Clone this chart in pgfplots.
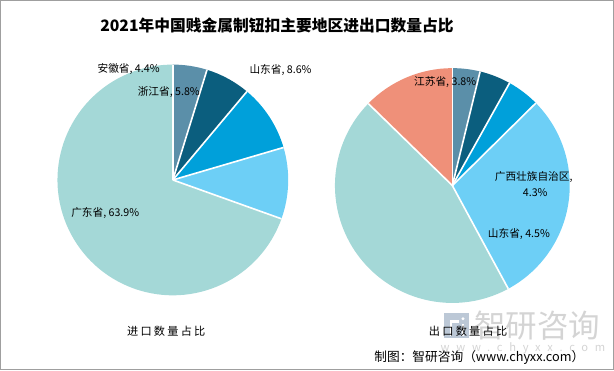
\documentclass[border=0pt]{standalone}
\usepackage{pgfplots}
\pgfplotsset{compat=1.18}
\usepackage{fontspec}
\setmainfont{Noto Sans CJK SC}
\definecolor{cA}{HTML}{5B8FA9}
\definecolor{cB}{HTML}{0B5E7E}
\definecolor{cC}{HTML}{00A0DA}
\definecolor{cD}{HTML}{6DCFF6}
\definecolor{cE}{HTML}{A4D8D7}
\definecolor{cF}{HTML}{EF9079}
\definecolor{wm}{HTML}{D4D4D4}
\definecolor{wmlogo}{HTML}{BCC8D6}
% build list of start/end angles from value/colour list (clockwise from 12 o'clock)
\newcommand\pieangles[2]{% #1 output macro name, #2 list
  \xdef\pieTot{0}%
  \foreach \pieV/\pieC in {#2}{\pgfmathsetmacro\pieT{\pieTot+\pieV}\xdef\pieTot{\pieT}}%
  \xdef\pieCum{0}%
  \gdef#1{}%
  \foreach \pieV/\pieC in {#2}{%
    \pgfmathsetmacro\pieA{90-(\pieCum/\pieTot)*360}%
    \pgfmathsetmacro\pieB{90-((\pieCum+\pieV)/\pieTot)*360}%
    \ifx#1\empty \xdef#1{\pieA/\pieB/\pieC}\else \xdef#1{#1,\pieA/\pieB/\pieC}\fi
    \pgfmathsetmacro\pieT{\pieCum+\pieV}\xdef\pieCum{\pieT}}%
}
% import shares
\pieangles{\leftslices}{4.4/cA,5.8/cB,8.6/cC,9.2/cD,63.9/cE}
% export shares
\pieangles{\rightslices}{3.8/cA,4.3/cB,4.5/cC,29.5/cD,45.2/cE,12.7/cF}
\newcommand\drawpie[4]{% cx cy r slices
  \foreach \pieA/\pieB/\pieC in #4{%
    \fill[\pieC] (axis cs:#1,#2) -- ++(\pieA:#3pt) arc[start angle=\pieA, end angle=\pieB, radius=#3pt] -- cycle;}%
  \foreach \pieA/\pieB/\pieC in #4{%
    \draw[white, line width=1.6pt] (axis cs:#1,#2) -- ++(\pieA:#3pt);}%
}
\begin{document}
\begin{tikzpicture}
\begin{axis}[
  width=614pt, height=371pt, scale only axis,
  xmin=0, xmax=614, ymin=0, ymax=371,
  hide axis, clip=false]
\pgfplotsextra{%
  \drawpie{173.5}{191.5}{113.5}{\leftslices}%
  \drawpie{448.5}{186}{115.5}{\rightslices}%
}
% watermark
\fill[wmlogo] (axis cs:440,36) rectangle (axis cs:465,61);
\draw[white, line width=2.5pt] (axis cs:447,38) -- (axis cs:447,52) -- (axis cs:455,52);
\draw[white, line width=2.5pt] (axis cs:459,38) -- (axis cs:459,50);
\fill[white] (axis cs:459,55) circle[radius=1.6pt];
\node[font=\fontsize{31}{31}\selectfont, text=wm, anchor=center, inner sep=0] at (axis cs:532,48) {智研咨询};
\node[font=\fontsize{11}{11}\selectfont\addfontfeature{LetterSpace=60}, text=wm, inner sep=0] at (axis cs:518,26) {www.chyxx.com};
% title
\node[font=\fontsize{15.5}{16}\selectfont\bfseries, inner sep=0] at (axis cs:276,343) {2021年中国贱金属制钮扣主要地区进出口数量占比};
% labels
\node[font=\fontsize{10.5}{11}\selectfont, inner sep=0] at (axis cs:130,301) {安徽省, 4.4\%};
\node[font=\fontsize{10.5}{11}\selectfont, inner sep=0] at (axis cs:169.5,278) {浙江省, 5.8\%};
\node[font=\fontsize{10.5}{11}\selectfont, inner sep=0] at (axis cs:279.5,300) {山东省, 8.6\%};
\node[font=\fontsize{10.5}{11}\selectfont, inner sep=0] at (axis cs:107,159) {广东省, 63.9\%};
\node[font=\fontsize{10.5}{11}\selectfont, inner sep=0] at (axis cs:441.5,288) {江苏省, 3.8\%};
\node[font=\fontsize{10.5}{11}\selectfont, inner sep=0] at (axis cs:528.5,194) {广西壮族自治区,};
\node[font=\fontsize{10.5}{11}\selectfont, inner sep=0] at (axis cs:530,179) {4.3\%};
\node[font=\fontsize{10.5}{11}\selectfont, inner sep=0] at (axis cs:514,138) {山东省, 4.5\%};
% sub-captions
\node[font=\fontsize{11}{11}\selectfont\addfontfeature{LetterSpace=20}, inner sep=0] at (axis cs:167,43) {进口数量占比};
\node[font=\fontsize{11}{11}\selectfont\addfontfeature{LetterSpace=20}, inner sep=0] at (axis cs:464,43) {出口数量占比};
\node[font=\fontsize{12.5}{13}\selectfont, inner sep=0] at (axis cs:475,17) {制图：智研咨询（www.chyxx.com）};
% frame
\draw[gray!75, line width=1.1pt] (axis cs:4,5) rectangle (axis cs:607,368);
\end{axis}
\end{tikzpicture}
\end{document}
